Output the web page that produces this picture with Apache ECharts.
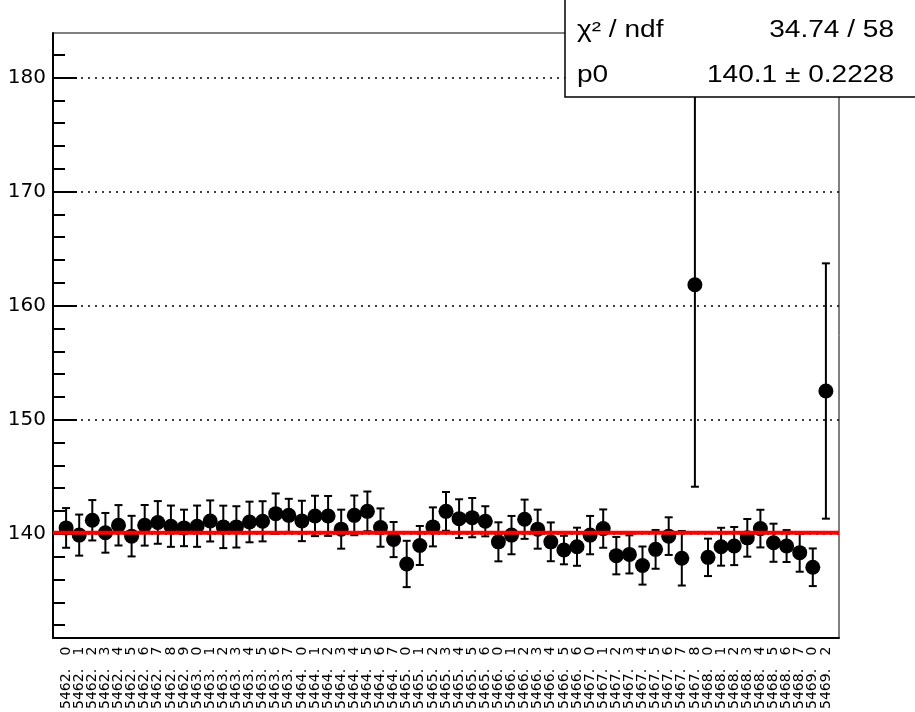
<!DOCTYPE html>
<html><head><meta charset="utf-8">
<script src="https://cdn.jsdelivr.net/npm/echarts@6/dist/echarts.min.js"></script>
<style>html,body{margin:0;padding:0;background:#fff}#c{width:915px;height:712px}</style>
</head><body><div id="c"></div>
<script>
const runLabels = [
  "5462.   0","5462.   1","5462.   2","5462.   3","5462.   4","5462.   5","5462.   6","5462.   7","5462.   8","5462.   9",
  "5463.   0","5463.   1","5463.   2","5463.   3","5463.   4","5463.   5","5463.   6","5463.   7",
  "5464.   0","5464.   1","5464.   2","5464.   3","5464.   4","5464.   5","5464.   6","5464.   7",
  "5465.   0","5465.   1","5465.   2","5465.   3","5465.   4","5465.   5","5465.   6",
  "5466.   0","5466.   1","5466.   2","5466.   3","5466.   4","5466.   5","5466.   6",
  "5467.   0","5467.   1","5467.   2","5467.   3","5467.   4","5467.   5","5467.   6","5467.   7","5467.   8",
  "5468.   0","5468.   1","5468.   2","5468.   3","5468.   4","5468.   5","5468.   6","5468.   7",
  "5469.   0","5469.   2"
];
const values = [
  140.52,139.89,141.19,140.09,140.75,139.80,140.75,141.00,140.67,140.52,
  140.67,141.13,140.61,140.61,141.04,141.10,141.77,141.62,141.13,141.57,
  141.57,140.41,141.62,141.97,140.55,139.50,137.36,138.98,140.61,141.97,
  141.33,141.42,141.10,139.30,139.89,141.28,140.41,139.30,138.58,138.87,
  139.89,140.46,138.09,138.20,137.22,138.64,139.80,137.86,161.83,137.94,
  138.87,138.93,139.65,140.46,139.22,138.93,138.35,137.07,152.52
];
const errors = [
  1.74,1.80,1.77,1.74,1.77,1.78,1.78,1.87,1.81,1.60,
  1.81,1.80,1.86,1.81,1.78,1.76,1.77,1.45,1.77,1.77,
  1.75,1.71,1.74,1.74,1.68,1.54,2.03,1.71,1.71,1.70,
  1.70,1.72,1.32,1.71,1.68,1.72,1.71,1.70,1.25,1.67,
  1.68,1.68,1.64,1.67,1.67,1.70,1.65,2.39,17.70,1.64,
  1.66,1.67,1.65,1.65,1.67,1.40,1.67,1.65,11.19
];
const fitP0 = 140.1;
const yMajorTicks = [140,150,160,170,180];
const yMinorTicks = [132,134,136,138,142,144,146,148,152,154,156,158,162,164,166,168,172,174,176,178,182];
const statsNames = ["χ² / ndf","p0"];
const statsValues = ["34.74 / 58","140.1 ± 0.2228"];

const xMin = 0, xMax = runLabels.length + 1;
const yMin = 130.9, yMax = 183.9;
const FONT = "DejaVu Sans";
const SFONT = "Liberation Sans";

const pts = values.map((v,i)=>[i+1, v]);
const bars = values.map((v,i)=>[i+1, v-errors[i], v+errors[i]]);

const statText = (x,y,txt,align)=>({
  type:'text',zlevel:1,z:101,x:x,y:y,scaleX:1.22,scaleY:1,
  style:{text:txt,fontFamily:SFONT,fontSize:23,fill:'#000',textAlign:align,textVerticalAlign:'middle'}
});

const chart = echarts.init(document.getElementById('c'), null, {renderer:'canvas'});
chart.setOption({
  animation:false,
  backgroundColor:'#fff',
  grid:{left:53,right:76,top:33,bottom:70,show:true,borderColor:'#000',borderWidth:1,backgroundColor:'transparent'},
  xAxis:{
    type:'value',min:xMin,max:xMax,interval:1,
    axisLine:{show:true,lineStyle:{color:'#000',width:2}},
    axisTick:{show:false},
    splitLine:{show:false},
    axisLabel:{
      rotate:90,margin:9,fontFamily:FONT,fontSize:14,color:'#000',
      showMinLabel:false,showMaxLabel:false,
      formatter:v=>{const i=Math.round(v)-1;return (i>=0&&i<runLabels.length)?runLabels[i]:'';}
    }
  },
  yAxis:[{
    type:'value',min:yMin,max:yMax,position:'left',
    axisLine:{show:true,lineStyle:{color:'#000',width:2}},
    axisTick:{show:true,inside:true,length:24,customValues:yMajorTicks,lineStyle:{color:'#000',width:2}},
    axisLabel:{customValues:yMajorTicks,fontFamily:FONT,fontSize:20,color:'#000',margin:7},
    splitLine:{show:false}
  },{
    type:'value',min:yMin,max:yMax,position:'left',
    axisLine:{show:false},
    axisTick:{show:true,inside:true,length:12,customValues:yMinorTicks,lineStyle:{color:'#000',width:2}},
    axisLabel:{show:false},
    splitLine:{show:false}
  }],
  series:[
    {
      type:'line',data:[],showSymbol:false,silent:true,
      markLine:{silent:true,symbol:'none',label:{show:false},
        lineStyle:{color:'#000',width:1.5,type:[2,5]},
        data:yMajorTicks.map(t=>({yAxis:t}))},
      z:1
    },
    {
      type:'custom',
      data:bars,
      encode:{x:0,y:[1,2]},
      renderItem:(params,api)=>{
        const x=api.value(0),lo=api.value(1),hi=api.value(2);
        const a=api.coord([x,hi]),b=api.coord([x,lo]);
        const hw=4;
        const st={stroke:'#000',lineWidth:2};
        return {type:'group',children:[
          {type:'line',shape:{x1:a[0],y1:a[1],x2:b[0],y2:b[1]},style:st},
          {type:'line',shape:{x1:a[0]-hw,y1:a[1],x2:a[0]+hw,y2:a[1]},style:st},
          {type:'line',shape:{x1:b[0]-hw,y1:b[1],x2:b[0]+hw,y2:b[1]},style:st}
        ]};
      },
      z:3
    },
    {
      type:'scatter',data:pts,symbol:'circle',symbolSize:15,
      itemStyle:{color:'#000',opacity:1},z:4
    },
    {
      type:'line',data:[[xMin,fitP0],[xMax,fitP0]],showSymbol:false,
      lineStyle:{color:'#ff0000',width:4},z:5
    }
  ],
  graphic:[
    {type:'rect',zlevel:1,z:100,shape:{x:565,y:-1,width:360,height:98},style:{fill:'#fff',stroke:'#000',lineWidth:1.5}},
    statText(577,31,statsNames[0],'left'),
    statText(894,31,statsValues[0],'right'),
    statText(577,76,statsNames[1],'left'),
    statText(894,76,statsValues[1],'right')
  ]
});
</script>
</body></html>
